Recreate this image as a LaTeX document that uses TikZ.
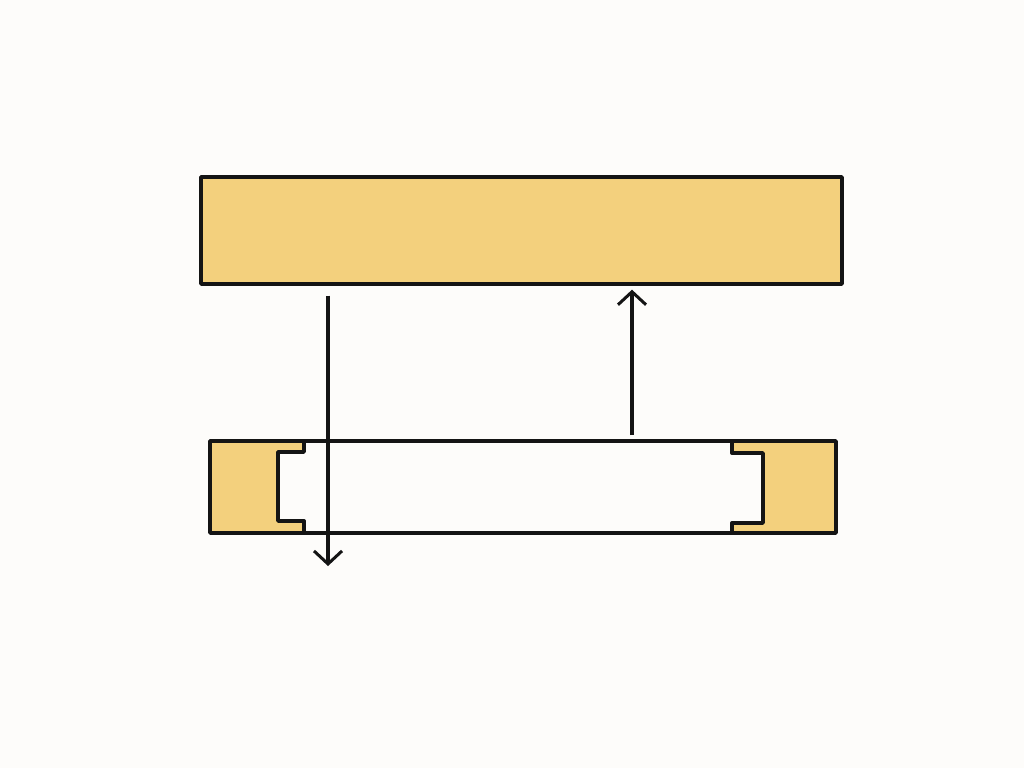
\documentclass[tikz,border=0pt]{standalone}
\usetikzlibrary{arrows.meta}
\definecolor{bgc}{RGB}{253,252,250}
\definecolor{ochre}{RGB}{243,208,125}
\definecolor{ink}{RGB}{20,20,20}
\tikzset{
  outline/.style={draw=ink,line width=3.4pt,line join=round,line cap=round},
  slab/.style={outline,fill=ochre,rectangle,inner sep=0pt},
  flow/.style={draw=ink,line width=3.2pt,-{Straight Barb[length=13pt,width=28pt,line width=3pt]}},
}
\begin{document}
\begin{tikzpicture}[x=1pt,y=-1pt]
\fill[bgc] (0,0) rectangle (1024,768);
\useasboundingbox (0,0) rectangle (1024,768);
% top slab
\node[slab,minimum width=641pt,minimum height=107pt] (top) at (521.5,230.5) {};
% bottom frame fills
\fill[ochre] (210,441) -- (304,441) -- (304,452) -- (278,452) -- (278,521) -- (304,521) -- (304,533) -- (210,533) -- cycle;
\fill[ochre] (836,441) -- (732,441) -- (732,453) -- (763,453) -- (763,523) -- (732,523) -- (732,533) -- (836,533) -- cycle;
\node[outline,rectangle,minimum width=626pt,minimum height=92pt,inner sep=0pt] (bot) at (523,487) {};
\draw[outline] (304,441) -- (304,452) -- (278,452) -- (278,521) -- (304,521) -- (304,533);
\draw[outline] (732,441) -- (732,453) -- (763,453) -- (763,523) -- (732,523) -- (732,533);
% arrows
\coordinate (dn) at (328,566);
\coordinate (up) at (632,435);
\draw[flow] (top.south -| dn) ++(0,10) -- (dn);
\draw[flow] (up) -- ([yshift=-4pt]top.south -| up);
\end{tikzpicture}
\end{document}
